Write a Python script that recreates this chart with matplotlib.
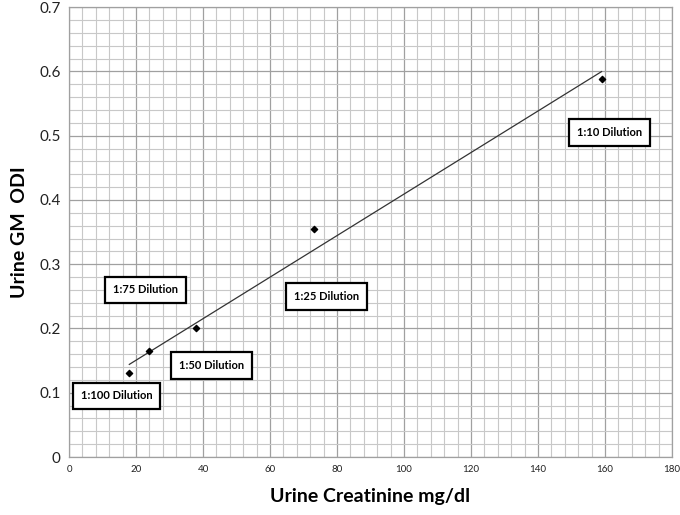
import numpy as np
import matplotlib.pyplot as plt
from matplotlib.ticker import MultipleLocator

# urine creatinine (mg/dl) vs urine GM ODI
creatinine = [18, 24, 38, 73, 159]
odi = [0.13, 0.165, 0.2, 0.355, 0.588]

labels = ["1:100 Dilution", "1:75 Dilution", "1:50 Dilution", "1:25 Dilution", "1:10 Dilution"]
label_x = [14.2, 22.9, 42.5, 76.8, 161.4]
label_y = [0.095, 0.26, 0.142, 0.25, 0.505]
yticks = [0, 0.1, 0.2, 0.3, 0.4, 0.5, 0.6, 0.7]
ytick_labels = ['0', '0.1', '0.2', '0.3', '0.4', '0.5', '0.6', '0.7']

plt.rcParams['font.family'] = ['Lato', 'DejaVu Sans']

fig = plt.figure(figsize=(6.8, 5.15), dpi=100)
ax = fig.add_axes([0.1015, 0.1126, 0.8866, 0.8735])

ax.set_xlim(0, 180)
ax.set_ylim(0, 0.7)
ax.xaxis.set_major_locator(MultipleLocator(20))
ax.xaxis.set_minor_locator(MultipleLocator(4))
ax.set_yticks(yticks)
ax.set_yticklabels(ytick_labels)
ax.yaxis.set_minor_locator(MultipleLocator(0.02))
ax.grid(which='minor', color='#c8c8c8', linewidth=0.8)
ax.grid(which='major', color='#a0a0a0', linewidth=0.9)
ax.set_axisbelow(True)
for s in ax.spines.values():
    s.set_color('#a0a0a0')
    s.set_linewidth(0.9)
ax.tick_params(which='both', length=0)
ax.tick_params(axis='x', labelsize=7, pad=6, colors='#222222')
ax.tick_params(axis='y', labelsize=11, pad=6, colors='#222222')

# linear trendline
slope, intercept = np.polyfit(creatinine, odi, 1)
tx = np.array([min(creatinine), max(creatinine)])
ax.plot(tx, slope * tx + intercept, color='#333333', linewidth=0.9)

ax.scatter(creatinine, odi, marker='D', s=10, color='black', zorder=3)

for t, lx, ly in zip(labels, label_x, label_y):
    ax.text(lx, ly, t, fontsize=8, fontweight='bold', ha='center', va='center',
            bbox=dict(boxstyle='square,pad=0.7', facecolor='white', edgecolor='black', linewidth=1.6))

ax.set_xlabel('Urine Creatinine mg/dl', fontsize=14, fontweight='bold', labelpad=10)
ax.set_ylabel('Urine GM  ODI', fontsize=14, fontweight='bold', labelpad=8)

fig.savefig('out.png', dpi=100)
